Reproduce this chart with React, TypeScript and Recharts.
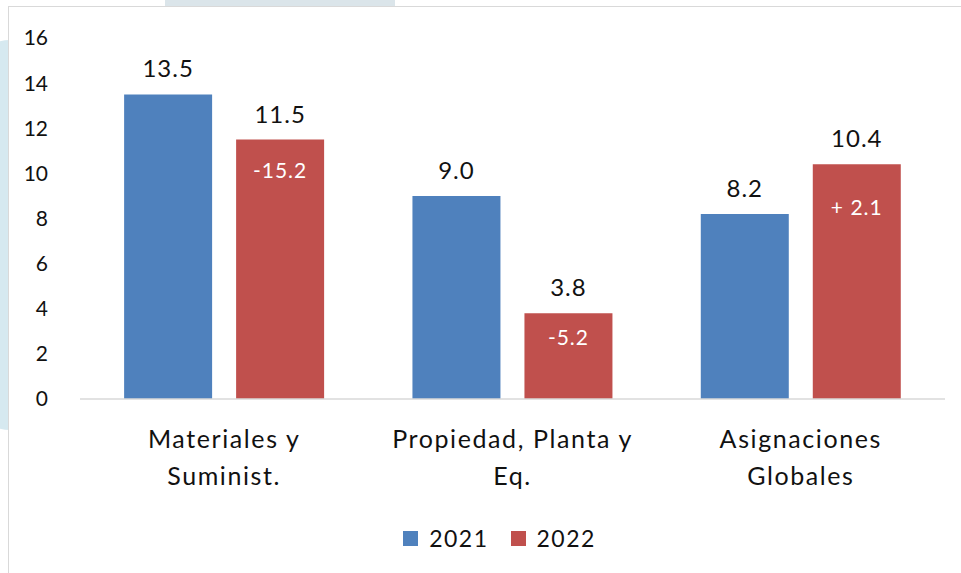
import React from "react"
import { BarChart, Bar, XAxis, YAxis, Legend, LabelList } from "recharts"

const categories = ["Materiales y Suminist.", "Propiedad, Planta y Eq.", "Asignaciones Globales"]
const categoryLines = [
  ["Materiales y", "Suminist."],
  ["Propiedad, Planta y", "Eq."],
  ["Asignaciones", "Globales"],
]
const values2021 = [13.5, 9.0, 8.2]
const values2022 = [11.5, 3.8, 10.4]
const changes = ["-15.2", "-5.2", "+ 2.1"]
const yTicks = [0, 2, 4, 6, 8, 10, 12, 14, 16]

// how far below the bar top each change label sits
const changeOffsets = [23, 17, 36]

const BLUE = "#4F81BD"
const RED = "#C0504D"
const FONT = "Lato, 'Noto Sans', sans-serif"

const data = categories.map((name, i) => ({
  name,
  y2021: values2021[i],
  y2022: values2022[i],
  change: changes[i],
}))

const CategoryTick = (props: any) => {
  const { x, y, index } = props
  const lines = categoryLines[index] || []
  return (
    <g>
      {lines.map((l, i) => (
        <text
          key={i}
          x={x}
          y={y + 41 + i * 37}
          textAnchor="middle"
          fill="#111"
          fontSize={25}
          fontFamily={FONT}
          letterSpacing={1.6}
        >
          {l}
        </text>
      ))}
    </g>
  )
}

const ChangeLabel = (props: any) => {
  const { x, y, width, value, index } = props
  return (
    <text
      x={x + width / 2}
      y={y + changeOffsets[index] + 15}
      textAnchor="middle"
      fill="#fff"
      fontSize={21}
      fontFamily={FONT}
      letterSpacing={1}
    >
      {value}
    </text>
  )
}

const LegendContent = () => (
  <div style={{ height: 30, paddingLeft: 54, display: "flex", justifyContent: "center", alignItems: "center", fontFamily: FONT, fontSize: 23, color: "#111", letterSpacing: 1.5 }}>
    <span style={{ width: 15, height: 15, background: BLUE, display: "inline-block", marginRight: 11 }} />
    <span style={{ marginRight: 22 }}>2021</span>
    <span style={{ width: 15, height: 15, background: RED, display: "inline-block", marginRight: 11 }} />
    <span>2022</span>
  </div>
)

export default function App() {
  return (
    <div style={{ position: "absolute", left: 0, top: 0, width: 961, height: 573, overflow: "hidden", background: "#fff" }}>
      {/* decorative background shapes peeking around the frame */}
      <div style={{ position: "absolute", left: -30, top: 40, width: 50, height: 390, background: "#d6e9f0", borderRadius: "40px 0 0 40px" }} />
      <div style={{ position: "absolute", left: 165, top: 0, width: 230, height: 8, background: "#dbe5ea" }} />
      <div style={{ position: "absolute", left: 8, top: 6, width: 970, height: 600, border: "1px solid #d9d9d9", background: "#fff", boxSizing: "border-box" }} />
      <div style={{ position: "absolute", left: 0, top: 0 }}>
        <BarChart
          width={961}
          height={573}
          data={data}
          margin={{ top: 38, right: 16, left: 0, bottom: 20 }}
          barCategoryGap="15.3%"
          barGap={24}
        >
          <XAxis
            dataKey="name"
            axisLine={{ stroke: "#d9d9d9", strokeWidth: 1.5 }}
            tickLine={false}
            tick={<CategoryTick />}
            height={124}
            interval={0}
          />
          <YAxis
            domain={[0, 16]}
            ticks={yTicks}
            axisLine={false}
            tickLine={false}
            width={80}
            tick={{ fill: "#111", fontSize: 21, fontFamily: FONT }}
            tickMargin={26}
          />
          <Legend verticalAlign="bottom" content={<LegendContent />} />
          <Bar dataKey="y2021" fill={BLUE} isAnimationActive={false}>
            <LabelList
              dataKey="y2021"
              position="top"
              offset={17}
              formatter={(v: any) => Number(v).toFixed(1)}
              style={{ fill: "#111", fontSize: 24, fontFamily: FONT, letterSpacing: 1 }}
            />
          </Bar>
          <Bar dataKey="y2022" fill={RED} isAnimationActive={false}>
            <LabelList
              dataKey="y2022"
              position="top"
              offset={17}
              formatter={(v: any) => Number(v).toFixed(1)}
              style={{ fill: "#111", fontSize: 24, fontFamily: FONT, letterSpacing: 1 }}
            />
            <LabelList dataKey="change" content={<ChangeLabel />} />
          </Bar>
        </BarChart>
      </div>
    </div>
  )
}
